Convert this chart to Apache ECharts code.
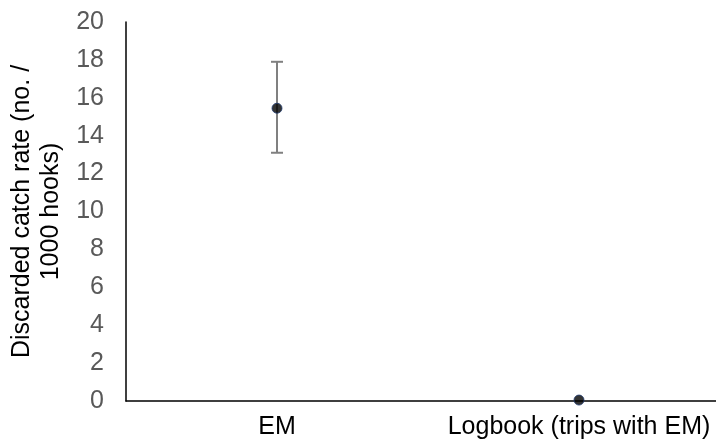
<!DOCTYPE html>
<html><head><meta charset="utf-8">
<script src="https://cdn.jsdelivr.net/npm/echarts@6/dist/echarts.min.js"></script>
<style>html,body{margin:0;padding:0;background:#fff}#c{width:716px;height:446px}</style>
</head><body><div id="c"></div>
<script>
var categories = ['EM', 'Logbook (trips with EM)'];
var means = [15.45, 0.05];
var lowErr = [13.1, null];
var highErr = [17.9, null];
var yTicks = [0, 2, 4, 6, 8, 10, 12, 14, 16, 18, 20];

var chart = echarts.init(document.getElementById('c'));
var errData = [];
for (var i = 0; i < categories.length; i++) {
  if (lowErr[i] != null) errData.push([i, lowErr[i], highErr[i]]);
}
var FONT = 'Liberation Sans, Arial, sans-serif';
chart.setOption({
  animation: false,
  grid: { left: 126, top: 22, width: 604, height: 379, containLabel: false, outerBoundsMode: 'none' },
  xAxis: {
    type: 'category', data: categories, boundaryGap: true,
    axisLine: { lineStyle: { color: '#000', width: 1.5 } },
    axisTick: { show: false },
    axisLabel: { color: '#000', fontSize: 25, fontFamily: FONT, margin: 14, interval: 0, hideOverlap: false }
  },
  yAxis: {
    type: 'value', min: yTicks[0], max: yTicks[yTicks.length - 1], interval: 2,
    name: 'Discarded catch rate (no. /\n1000 hooks)',
    nameLocation: 'middle', nameGap: 59, nameRotate: 90,
    nameTextStyle: { color: '#000', fontSize: 25, fontFamily: FONT, lineHeight: 29 },
    axisLine: { show: true, lineStyle: { color: '#000', width: 1.5 } },
    axisTick: { show: false },
    splitLine: { show: false },
    axisLabel: { color: '#595959', fontSize: 25, fontFamily: FONT, margin: 22 }
  },
  series: [
    {
      type: 'custom',
      data: errData,
      z: 1,
      renderItem: function (params, api) {
        var x = api.value(0);
        var lo = api.coord([x, api.value(1)]);
        var hi = api.coord([x, api.value(2)]);
        var hw = 6;
        var st = { stroke: '#808080', lineWidth: 2 };
        return {
          type: 'group',
          children: [
            { type: 'line', shape: { x1: lo[0], y1: lo[1], x2: hi[0], y2: hi[1] }, style: st },
            { type: 'line', shape: { x1: lo[0] - hw, y1: lo[1], x2: lo[0] + hw, y2: lo[1] }, style: st },
            { type: 'line', shape: { x1: hi[0] - hw, y1: hi[1], x2: hi[0] + hw, y2: hi[1] }, style: st }
          ]
        };
      }
    },
    {
      type: 'scatter', z: 3,
      data: means,
      symbol: 'circle', symbolSize: 10,
      itemStyle: { color: '#000', borderColor: '#1f3a6e', borderWidth: 1 }
    }
  ]
});
</script></body></html>
